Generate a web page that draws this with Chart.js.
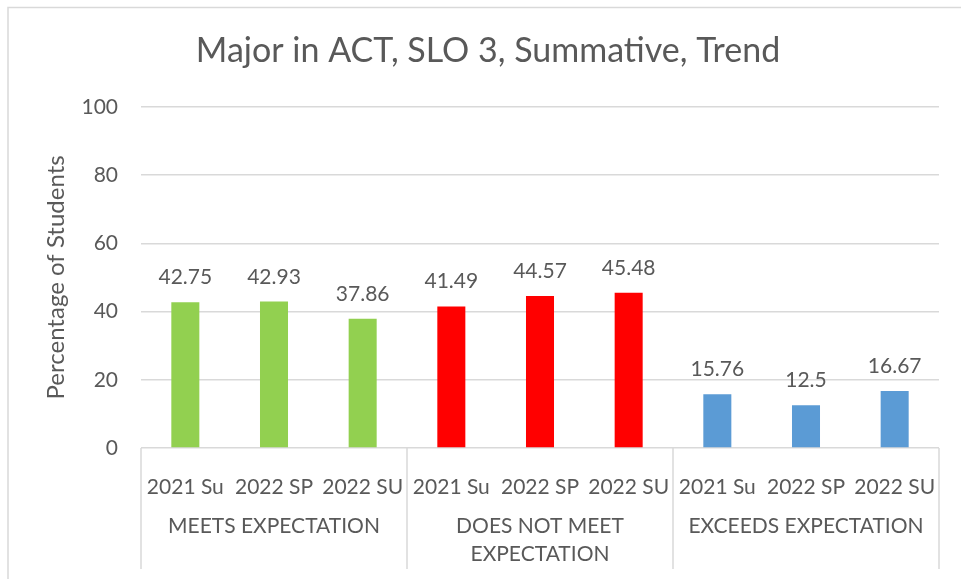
<!DOCTYPE html>
<html><head><meta charset="utf-8">
<script src="https://cdn.jsdelivr.net/npm/chart.js@4/dist/chart.umd.min.js"></script>
<style>html,body{margin:0;padding:0;background:#fff;} canvas{display:block}</style>
</head><body>
<canvas id="c" width="961" height="579"></canvas>
<script>
const groups = ['MEETS EXPECTATION', 'DOES NOT MEET EXPECTATION', 'EXCEEDS EXPECTATION'];
const periods = ['2021 Su', '2022 SP', '2022 SU'];
const meets = [42.75, 42.93, 37.86];
const doesNotMeet = [41.49, 44.57, 45.48];
const exceeds = [15.76, 12.5, 16.67];
const groupColors = ['#92D050', '#FF0000', '#5B9BD5'];
const yTicks = [0, 20, 40, 60, 80, 100];
const titleText = 'Major in ACT, SLO 3, Summative, Trend';
const yTitle = 'Percentage of Students';

const FONT = 'Lato';
const TEXT = '#595959';
const GRID = '#d9d9d9';

const series = [meets, doesNotMeet, exceeds];
const labels = [], values = [], colors = [];
groups.forEach((g, gi) => {
  periods.forEach((p, pi) => {
    labels.push(p);
    values.push(series[gi][pi]);
    colors.push(groupColors[gi]);
  });
});

const framePlugin = {
  id: 'frame',
  beforeDraw(chart) {
    const ctx = chart.ctx;
    ctx.save();
    ctx.strokeStyle = GRID;
    ctx.lineWidth = 1.5;
    ctx.beginPath();
    ctx.moveTo(8, 579);
    ctx.lineTo(8, 7.5);
    ctx.lineTo(961, 7.5);
    ctx.stroke();
    ctx.restore();
  }
};

const groupAxisPlugin = {
  id: 'groupAxis',
  afterDraw(chart) {
    const ctx = chart.ctx;
    const x = chart.scales.x;
    const top = chart.chartArea.bottom;
    const bottom = 569;
    ctx.save();
    ctx.strokeStyle = GRID;
    ctx.lineWidth = 1.5;
    const n = periods.length;
    const bounds = [];
    for (let gi = 0; gi <= groups.length; gi++) {
      bounds.push(x.getPixelForValue(gi * n - 0.5));
    }
    bounds.forEach(b => {
      ctx.beginPath();
      ctx.moveTo(b, top);
      ctx.lineTo(b, bottom);
      ctx.stroke();
    });
    ctx.fillStyle = TEXT;
    ctx.font = '21px ' + FONT;
    ctx.textAlign = 'center';
    ctx.textBaseline = 'middle';
    groups.forEach((g, gi) => {
      const l = bounds[gi], r = bounds[gi + 1];
      const maxW = r - l - 16;
      const words = g.split(' ');
      const lines = [];
      let cur = '';
      words.forEach(w => {
        const t = cur ? cur + ' ' + w : w;
        if (ctx.measureText(t).width > maxW && cur) { lines.push(cur); cur = w; }
        else cur = t;
      });
      if (cur) lines.push(cur);
      lines.forEach((ln, li) => {
        ctx.fillText(ln, (l + r) / 2, 526 + li * 28);
      });
    });
    ctx.restore();
  }
};

const dataLabelPlugin = {
  id: 'dataLabels',
  afterDatasetsDraw(chart) {
    const ctx = chart.ctx;
    const meta = chart.getDatasetMeta(0);
    ctx.save();
    ctx.fillStyle = TEXT;
    ctx.font = '21px ' + FONT;
    ctx.textAlign = 'center';
    ctx.textBaseline = 'alphabetic';
    meta.data.forEach((bar, i) => {
      ctx.fillText(String(values[i]), bar.x, bar.y - 18);
    });
    ctx.restore();
  }
};

new Chart(document.getElementById('c'), {
  type: 'bar',
  data: {
    labels: labels,
    datasets: [{
      data: values,
      backgroundColor: colors,
      borderWidth: 0,
      categoryPercentage: 1,
      barPercentage: 0.316
    }]
  },
  options: {
    responsive: false,
    animation: false,
    devicePixelRatio: 1,
    layout: { padding: { left: 37, right: 22, top: 0, bottom: 0 } },
    plugins: {
      legend: { display: false },
      tooltip: { enabled: false },
      title: {
        display: true,
        text: titleText,
        color: TEXT,
        font: { family: FONT, size: 34, weight: 'normal', lineHeight: 1.2 },
        padding: { top: 31, bottom: 35 }
      }
    },
    scales: {
      x: {
        grid: { display: false },
        border: { display: false },
        ticks: {
          color: TEXT,
          font: { family: FONT, size: 21 },
          padding: 19,
          maxRotation: 0,
          autoSkip: false
        },
        afterFit(s) { s.height = 131; }
      },
      y: {
        min: 0,
        max: 100,
        afterBuildTicks(s) { s.ticks = yTicks.map(v => ({ value: v })); },
        grid: { color: GRID, lineWidth: 1.5, drawTicks: false },
        border: { display: false },
        ticks: {
          color: TEXT,
          font: { family: FONT, size: 21 },
          padding: 23
        },
        title: {
          display: true,
          text: yTitle,
          color: TEXT,
          font: { family: FONT, size: 24, lineHeight: 1.2 },
          padding: { top: 5, bottom: 0 }
        },
        afterFit(s) { s.width = 141 - 37; }
      }
    }
  },
  plugins: [framePlugin, groupAxisPlugin, dataLabelPlugin]
});
</script>
</body></html>
